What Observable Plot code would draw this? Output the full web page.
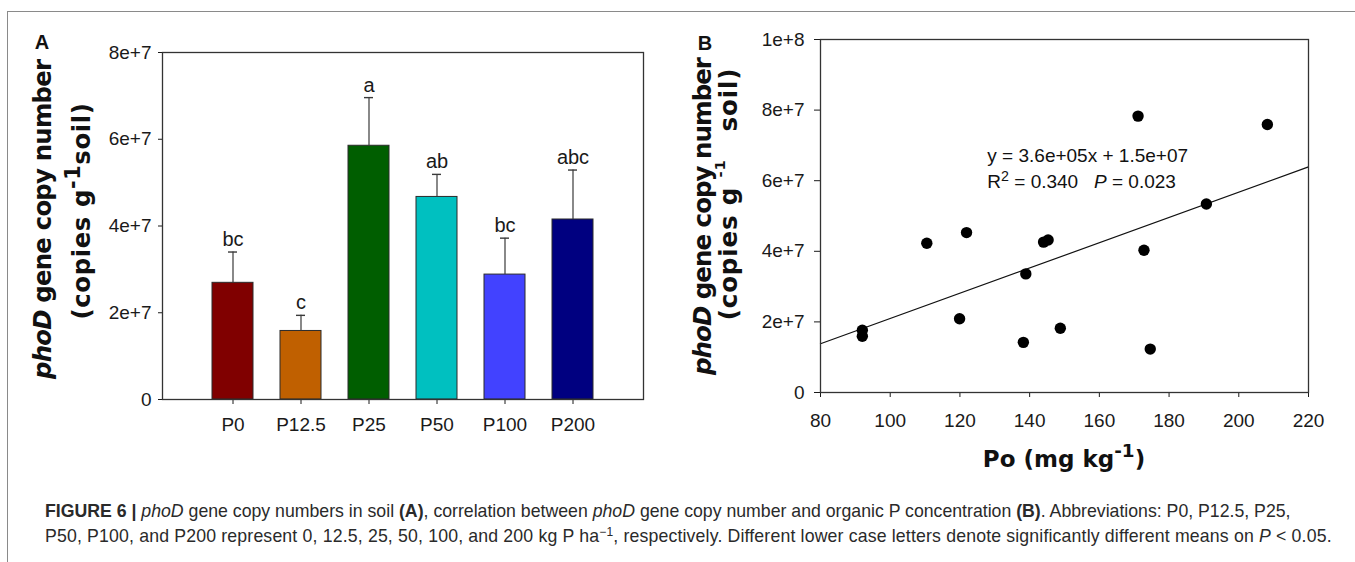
<!DOCTYPE html>
<html>
<head>
<meta charset="utf-8">
<script src="https://cdn.jsdelivr.net/npm/d3@7"></script>
<script src="https://cdn.jsdelivr.net/npm/@observablehq/plot@0.6"></script>
<style>
  html, body { margin: 0; padding: 0; background: #fff; }
  #fig { position: relative; width: 1355px; height: 562px; overflow: hidden; background: #fff; }
  #fig svg.panel { position: absolute; top: 0; }
  .border-top { position: absolute; left: 8px; top: 11px; width: 1347px; height: 0; border-top: 1.5px solid #8a8a8a; }
  .border-left { position: absolute; left: 7px; top: 11px; width: 0; height: 560px; border-left: 1.5px solid #8a8a8a; }
  .cap { position: absolute; left: 45px; top: 499px; font-family: "Liberation Sans", Arial, sans-serif; font-size: 17.7px; line-height: 25px; color: #2a2a2a; white-space: nowrap; }
  .cap .l2 { letter-spacing: 0.16px; }
  .cap sup { font-size: 12px; line-height: 0; vertical-align: 6px; }
</style>
</head>
<body>
<div id="fig">
  <div class="border-top"></div>
  <div class="border-left"></div>
  <div class="cap"><b>FIGURE 6 |</b> <i>phoD</i> gene copy numbers in soil <b>(A)</b>, correlation between <i>phoD</i> gene copy number and organic P concentration <b>(B)</b>. Abbreviations: P0, P12.5, P25,<br><span class="l2">P50, P100, and P200 represent 0, 12.5, 25, 50, 100, and 200 kg P ha<sup>−1</sup>, respectively. Different lower case letters denote significantly different means on <i>P</i> &lt; 0.05.</span></div>
</div>
<script>
// ---------- Panel A data ----------
const categories = ["P0", "P12.5", "P25", "P50", "P100", "P200"];
const meanCopies = [2.69e7, 1.58e7, 5.85e7, 4.67e7, 2.88e7, 4.15e7];
const errorUpper = [0.71e7, 0.36e7, 1.11e7, 0.52e7, 0.84e7, 1.14e7];
const letters = ["bc", "c", "a", "ab", "bc", "abc"];
const barColors = ["#800000", "#c06000", "#005e00", "#00c0c0", "#4242ff", "#000080"];
const yTicksA = [0, 2e7, 4e7, 6e7, 8e7];

// ---------- Panel B data ----------
const poValues = [92.0, 92.0, 110.5, 121.9, 119.9, 138.9, 138.2, 144.0, 145.3, 148.8, 171.1, 172.8, 174.6, 190.7, 208.2];
const copyValues = [1.765e7, 1.595e7, 4.23e7, 4.53e7, 2.09e7, 3.36e7, 1.42e7, 4.26e7, 4.32e7, 1.82e7, 7.83e7, 4.03e7, 1.23e7, 5.34e7, 7.59e7];
const fitX = [80, 220];
const fitY = [1.38e7, 6.39e7];
const xTicksB = [80, 100, 120, 140, 160, 180, 200, 220];
const yTicksB = [0, 2e7, 4e7, 6e7, 8e7, 1e8];
const eqText = "y = 3.6e+05x + 1.5e+07";
const eqAnchor = {x: 128, y1: 6.52e7, y2: 5.77e7};

const fmtE = d => d === 0 ? "0" : d3.format(".0e")(d);
const sans = "'Liberation Sans', Arial, sans-serif";
const boldFam = "'DejaVu Sans', sans-serif";

const rowsA = categories.map((c, i) => ({cat: c, mean: meanCopies[i], top: meanCopies[i] + errorUpper[i], letter: letters[i]}));
const rowsB = poValues.map((x, i) => ({x, y: copyValues[i]}));
const fitRows = fitX.map((x, i) => ({x, y: fitY[i]}));

function richText(svg, x, y, parts, o) {
  const t = d3.select(svg).append("text")
    .attr("transform", `translate(${x},${y})` + (o.rotate ? ` rotate(${o.rotate})` : ""))
    .attr("text-anchor", o.anchor || "start")
    .attr("font-family", o.family || sans)
    .attr("font-size", o.size)
    .attr("font-weight", o.weight || "normal")
    .attr("fill", o.fill || "#111")
    .style("white-space", "pre");
  if (o.length) t.attr("textLength", o.length).attr("lengthAdjust", "spacing");
  if (o.spacing) t.attr("letter-spacing", o.spacing);
  let shift = 0;
  for (const p of parts) {
    const ts = t.append("tspan").text(p.t);
    if (p.italic) ts.attr("font-style", "italic");
    const target = p.sup ? -o.size * (p.raise ?? 0.42) : 0;
    if (p.sup) ts.attr("font-size", o.size * p.sup);
    if (target !== shift) { ts.attr("dy", target - shift); shift = target; }
  }
  return t;
}

const fig = document.getElementById("fig");

// ---------- Panel A ----------
const plotA = Plot.plot({
  width: 680, height: 470,
  marginLeft: 162, marginRight: 37, marginTop: 52, marginBottom: 71,
  style: {fontFamily: sans, fontSize: "19px", color: "#1a1a1a", background: "transparent", overflow: "visible"},
  x: {domain: categories, paddingInner: 0.393, paddingOuter: 0.697, label: null, tickSize: 5, tickPadding: 13},
  y: {domain: [0, 8e7], ticks: yTicksA, tickFormat: fmtE, label: null, tickSize: 4, tickPadding: 7},
  color: {domain: categories, range: barColors},
  marks: [
    Plot.barY(rowsA, {x: "cat", y: "mean", fill: "cat", stroke: "#2b2b2b", strokeWidth: 1}),
    Plot.ruleX(rowsA, {x: "cat", y1: "mean", y2: "top", stroke: "#3a3a3a", strokeWidth: 1.2}),
    Plot.tickY(rowsA, {x: "cat", y: "top", insetLeft: 16, insetRight: 16, stroke: "#3a3a3a", strokeWidth: 1.4}),
    Plot.text(rowsA, {x: "cat", y: "top", text: "letter", lineAnchor: "bottom", dy: -6, fontSize: 20, fill: "#1a1a1a"}),
    Plot.frame({stroke: "#333", strokeWidth: 1.3})
  ]
});
plotA.classList.add("panel");
plotA.style.left = "0px";
fig.appendChild(plotA);

richText(plotA, 42, 49, [{t: "A"}], {size: 20, weight: "bold", anchor: "middle", family: sans});
richText(plotA, 51, 219, [{t: "phoD", italic: true}, {t: " gene copy number"}], {size: 24.4, weight: "bold", anchor: "middle", rotate: -90, family: boldFam, length: 320});
richText(plotA, 90, 211, [{t: "(copies g"}, {t: "-1", sup: 0.85, raise: 0.42}, {t: "soil)"}], {size: 24.4, weight: "bold", anchor: "middle", rotate: -90, family: boldFam, spacing: 0.6});

// ---------- Panel B ----------
const plotB = Plot.plot({
  width: 675, height: 480,
  marginLeft: 140, marginRight: 47, marginTop: 39, marginBottom: 88,
  style: {fontFamily: sans, fontSize: "19px", color: "#1a1a1a", background: "transparent", overflow: "visible"},
  x: {domain: [80, 220], ticks: xTicksB, label: null, tickSize: 5, tickPadding: 16},
  y: {domain: [0, 1e8], ticks: yTicksB, tickFormat: fmtE, label: null, tickSize: 6, tickPadding: 10},
  marks: [
    Plot.line(fitRows, {x: "x", y: "y", stroke: "#111", strokeWidth: 1.2}),
    Plot.dot(rowsB, {x: "x", y: "y", r: 5.7, fill: "#000", stroke: "none"}),
    Plot.frame({stroke: "#333", strokeWidth: 1.3})
  ]
});
plotB.classList.add("panel");
plotB.style.left = "680px";
fig.appendChild(plotB);

const sx = plotB.scale("x"), sy = plotB.scale("y");
richText(plotB, sx.apply(eqAnchor.x), sy.apply(eqAnchor.y1), [{t: eqText}], {size: 19, family: sans});
richText(plotB, sx.apply(eqAnchor.x), sy.apply(eqAnchor.y2),
  [{t: "R"}, {t: "2", sup: 0.75, raise: 0.4}, {t: " = 0.340   "}, {t: "P", italic: true}, {t: " = 0.023"}], {size: 19, family: sans});

richText(plotB, 25, 50, [{t: "B"}], {size: 20, weight: "bold", anchor: "middle", family: sans});
richText(plotB, 31, 216, [{t: "phoD", italic: true}, {t: " gene copy number"}], {size: 24.6, weight: "bold", anchor: "middle", rotate: -90, family: boldFam, length: 318});
richText(plotB, 57, 194, [{t: "(copies g "}, {t: "-1", sup: 0.6, raise: 0.5}, {t: "   soil)"}], {size: 24.6, weight: "bold", anchor: "middle", rotate: -90, family: boldFam, spacing: 0.8});
richText(plotB, 384, 467, [{t: "Po (mg kg"}, {t: "-1", sup: 0.8, raise: 0.42}, {t: ")"}], {size: 23, weight: "bold", anchor: "middle", family: boldFam});
</script>
</body>
</html>
